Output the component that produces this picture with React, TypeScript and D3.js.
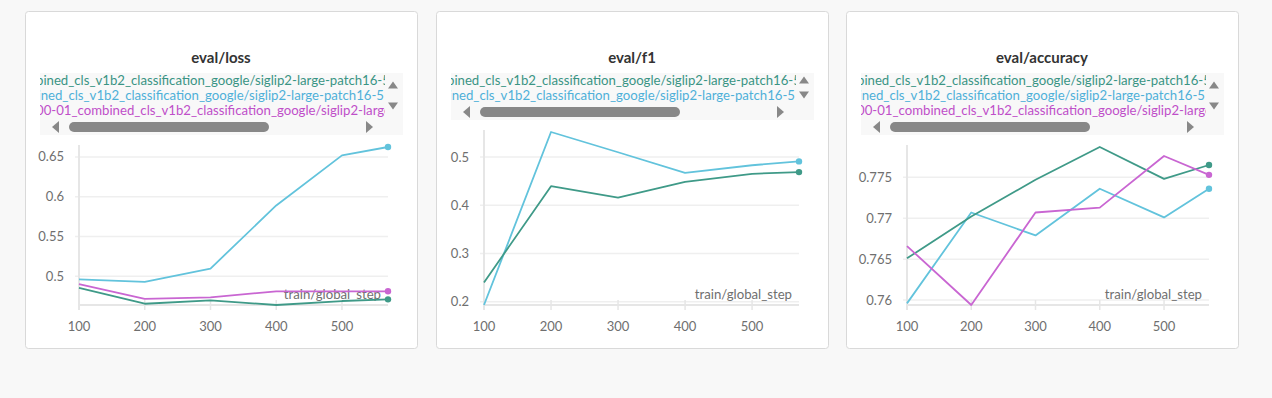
import React from "react";
import * as d3 from "d3";

// ---------- data ----------
const steps = [100, 200, 300, 400, 500, 570];
const xTicks = [100, 200, 300, 400, 500];

const lossGreen = [0.4854, 0.4654, 0.4696, 0.4638, 0.4688, 0.4709];
const lossBlue = [0.496, 0.4929, 0.5096, 0.589, 0.652, 0.6625];
const lossPink = [0.49, 0.4716, 0.4734, 0.481, 0.481, 0.481];
const lossTicks = [0.5, 0.55, 0.6, 0.65];

const f1Green = [0.2396, 0.4396, 0.416, 0.4486, 0.4653, 0.4688];
const f1Blue = [0.193, 0.552, 0.51, 0.467, 0.483, 0.491];
const f1Ticks = [0.2, 0.3, 0.4, 0.5];

const accGreen = [0.7651, 0.7702, 0.7747, 0.7787, 0.7748, 0.7765];
const accBlue = [0.7596, 0.7707, 0.7679, 0.7736, 0.7701, 0.7736];
const accPink = [0.7666, 0.7594, 0.7707, 0.7713, 0.7776, 0.7753];
const accTicks = [0.76, 0.765, 0.77, 0.775];

const runGreen = "bined_cls_v1b2_classification_google/siglip2-large-patch16-512";
const runBlue = "ined_cls_v1b2_classification_google/siglip2-large-patch16-512";
const runPink = "00-01_combined_cls_v1b2_classification_google/siglip2-large-patch16-512";

const GREEN = "#3f9a88";
const BLUE = "#62c3dc";
const PINK = "#c966d2";
const GREEN_T = "#3a9484";
const BLUE_T = "#4fb0d8";
const PINK_T = "#bf4fc9";

const FONT = "Lato, 'Open Sans', sans-serif";

type Series = { name: string; color: string; textColor: string; values: number[]; shift: number };

type PanelProps = {
  x0: number;
  title: string;
  series: Series[];
  yTicks: number[];
  axisX: number;
  drawOrder: number[];
};

function Panel({ x0, title, series, yTicks, axisX, drawOrder }: PanelProps) {
  const W = 392;
  const H = 337;
  const n = series.length;
  const legendTop = 62;
  const legendBottom = n === 3 ? 124 : 109;
  const plotTop = legendBottom + 12;
  const plotBottom = 294;
  const plotRight = 363;
  const all = series.flatMap((s) => s.values);
  const x = d3.scaleLinear().domain([steps[0], steps[steps.length - 1]]).range([axisX, plotRight]);
  const y = d3
    .scaleLinear()
    .domain([d3.min(all) as number, d3.max(all) as number])
    .range([plotBottom, plotTop]);
  const line = d3
    .line<number>()
    .x((_, i) => x(steps[i]))
    .y((d) => y(d));
  const clipId = `clip-${x0}`;
  const sbY = legendBottom - 8;
  const upY = n === 3 ? 74 : 69;
  const downY = n === 3 ? 95 : 84;
  return (
    <g transform={`translate(${x0},11)`} fontFamily={FONT}>
      <rect x={0.5} y={0.5} width={W} height={H} rx={3} fill="#fff" stroke="#d9d9d9" />
      <text x={W / 2} y={52} textAnchor="middle" fontWeight="bold" fontSize={15} fill="#333">
        {title}
      </text>
      {/* legend */}
      <rect x={15} y={legendTop} width={363} height={legendBottom - legendTop} fill="#f8f8f8" />
      <defs>
        <clipPath id={clipId}>
          <rect x={15} y={legendTop} width={345} height={legendBottom - legendTop - 14} />
        </clipPath>
      </defs>
      <g clipPath={`url(#${clipId})`}>
        {series.map((s, i) => (
          <text key={i} x={15 - s.shift} y={73.5 + i * 15} fontSize={13.2} fill={s.textColor}>
            {s.name}
          </text>
        ))}
      </g>
      {/* vertical scroll arrows */}
      <path d={`M${363},${upY + 3.5} L${373},${upY + 3.5} L${368},${upY - 3.5} Z`} fill="#888" />
      <path d={`M${363},${downY - 3.5} L${373},${downY - 3.5} L${368},${downY + 3.5} Z`} fill="#888" />
      {/* horizontal scrollbar */}
      <path d={`M${34},${sbY - 6} L${34},${sbY + 6} L${27},${sbY} Z`} fill="#888" />
      <path d={`M${341},${sbY - 6} L${341},${sbY + 6} L${348},${sbY} Z`} fill="#888" />
      <rect x={44} y={sbY - 5} width={200} height={10} rx={5} fill="#888" />
      {/* grid */}
      {yTicks.map((t) => (
        <g key={t}>
          <line x1={axisX - 4} x2={plotRight} y1={y(t)} y2={y(t)} stroke="#efefef" strokeWidth={1.5} />
          <text x={axisX - 15} y={y(t) + 4.5} textAnchor="end" fontSize={13} fill="#6f6f6f">
            {String(t)}
          </text>
        </g>
      ))}
      {xTicks.map((t) => (
        <g key={t}>
          <line x1={x(t)} x2={x(t)} y1={plotBottom - 5} y2={plotBottom + 5} stroke="#e6e6e6" strokeWidth={1.5} />
          <text x={x(t)} y={320} textAnchor="middle" fontSize={13} fill="#6f6f6f">
            {String(t)}
          </text>
        </g>
      ))}
      <line x1={axisX} x2={axisX} y1={plotTop - 2} y2={plotBottom + 5} stroke="#e6e6e6" strokeWidth={2} />
      <line x1={axisX} x2={plotRight} y1={plotBottom} y2={plotBottom} stroke="#e6e6e6" strokeWidth={2} />
      <text x={356} y={288} textAnchor="end" fontSize={13.2} fill="#6f6f6f">
        train/global_step
      </text>
      {drawOrder.map((i) => {
        const s = series[i];
        const last = s.values.length - 1;
        return (
          <g key={i}>
            <path d={line(s.values) || ""} fill="none" stroke={s.color} strokeWidth={1.8} strokeLinejoin="round" />
            <circle cx={x(steps[last])} cy={y(s.values[last])} r={3.2} fill={s.color} />
          </g>
        );
      })}
    </g>
  );
}

export default function App() {
  const sGreen = (v: number[]): Series => ({ name: runGreen, color: GREEN, textColor: GREEN_T, values: v, shift: 4 });
  const sBlue = (v: number[]): Series => ({ name: runBlue, color: BLUE, textColor: BLUE_T, values: v, shift: 2.5 });
  const sPink = (v: number[]): Series => ({ name: runPink, color: PINK, textColor: PINK_T, values: v, shift: 4 });
  return (
    <svg
      width={1272}
      height={398}
      style={{ position: "absolute", left: 0, top: 0, display: "block" }}
    >
      <rect width={1272} height={398} fill="#f8f8f8" />
      <Panel
        x0={25}
        title="eval/loss"
        series={[sGreen(lossGreen), sBlue(lossBlue), sPink(lossPink)]}
        yTicks={lossTicks}
        axisX={54}
        drawOrder={[1, 0, 2]}
      />
      <Panel
        x0={436}
        title="eval/f1"
        series={[sGreen(f1Green), sBlue(f1Blue)]}
        yTicks={f1Ticks}
        axisX={48}
        drawOrder={[1, 0]}
      />
      <Panel
        x0={846}
        title="eval/accuracy"
        series={[sGreen(accGreen), sBlue(accBlue), sPink(accPink)]}
        yTicks={accTicks}
        axisX={61}
        drawOrder={[1, 0, 2]}
      />
    </svg>
  );
}
